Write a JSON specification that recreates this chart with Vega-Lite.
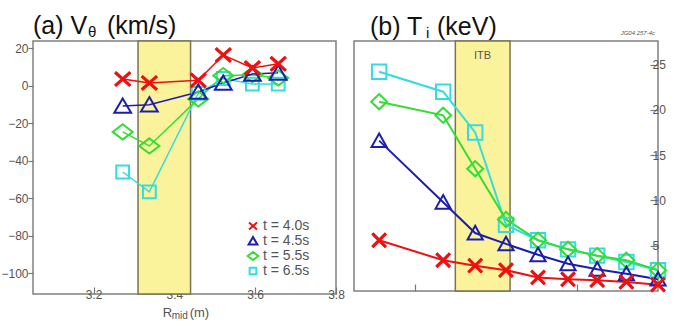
{
  "$schema": "https://vega.github.io/schema/vega-lite/v6.json",
  "padding": {"left": 0, "top": 13, "right": 5, "bottom": 4},
  "background": "white",
  "config": {
    "view": {"stroke": "#808080", "strokeWidth": 1.5},
    "font": "Liberation Sans",
    "axis": {"grid": false, "domain": false, "tickColor": "#777777", "tickWidth": 1.2, "tickSize": -6, "labelColor": "#555555", "labelFontSize": 12, "labelFont": "Liberation Sans", "labelPadding": 2}
  },
  "datasets": {
    "va": [
      {"R": 3.272, "v": -45.9, "t": "t = 6.5s"},
      {"R": 3.338, "v": -56.5, "t": "t = 6.5s"},
      {"R": 3.459, "v": -4, "t": "t = 6.5s"},
      {"R": 3.521, "v": 4, "t": "t = 6.5s"},
      {"R": 3.593, "v": 1, "t": "t = 6.5s"},
      {"R": 3.657, "v": 1, "t": "t = 6.5s"},
      {"R": 3.272, "v": -24.5, "t": "t = 5.5s"},
      {"R": 3.338, "v": -32, "t": "t = 5.5s"},
      {"R": 3.459, "v": -6.9, "t": "t = 5.5s"},
      {"R": 3.521, "v": 5.5, "t": "t = 5.5s"},
      {"R": 3.593, "v": 6, "t": "t = 5.5s"},
      {"R": 3.657, "v": 4.3, "t": "t = 5.5s"},
      {"R": 3.272, "v": -10.7, "t": "t = 4.5s"},
      {"R": 3.338, "v": -10, "t": "t = 4.5s"},
      {"R": 3.459, "v": -3.2, "t": "t = 4.5s"},
      {"R": 3.521, "v": 1.6, "t": "t = 4.5s"},
      {"R": 3.593, "v": 6.4, "t": "t = 4.5s"},
      {"R": 3.657, "v": 7, "t": "t = 4.5s"},
      {"R": 3.272, "v": 3.7, "t": "t = 4.0s"},
      {"R": 3.338, "v": 1.6, "t": "t = 4.0s"},
      {"R": 3.459, "v": 3, "t": "t = 4.0s"},
      {"R": 3.521, "v": 16.5, "t": "t = 4.0s"},
      {"R": 3.593, "v": 9.6, "t": "t = 4.0s"},
      {"R": 3.657, "v": 11.8, "t": "t = 4.0s"}
    ],
    "ti": [
      {"R": 3.112, "T": 24.2, "t": "t = 6.5s"},
      {"R": 3.270, "T": 22, "t": "t = 6.5s"},
      {"R": 3.349, "T": 17.5, "t": "t = 6.5s"},
      {"R": 3.425, "T": 7.3, "t": "t = 6.5s"},
      {"R": 3.504, "T": 5.6, "t": "t = 6.5s"},
      {"R": 3.578, "T": 4.6, "t": "t = 6.5s"},
      {"R": 3.650, "T": 3.9, "t": "t = 6.5s"},
      {"R": 3.722, "T": 3.2, "t": "t = 6.5s"},
      {"R": 3.800, "T": 2.3, "t": "t = 6.5s"},
      {"R": 3.112, "T": 20.9, "t": "t = 5.5s"},
      {"R": 3.270, "T": 19.4, "t": "t = 5.5s"},
      {"R": 3.349, "T": 13.5, "t": "t = 5.5s"},
      {"R": 3.425, "T": 7.9, "t": "t = 5.5s"},
      {"R": 3.504, "T": 5.6, "t": "t = 5.5s"},
      {"R": 3.578, "T": 4.6, "t": "t = 5.5s"},
      {"R": 3.650, "T": 3.9, "t": "t = 5.5s"},
      {"R": 3.722, "T": 3.4, "t": "t = 5.5s"},
      {"R": 3.800, "T": 2.3, "t": "t = 5.5s"},
      {"R": 3.112, "T": 16.6, "t": "t = 4.5s"},
      {"R": 3.270, "T": 9.8, "t": "t = 4.5s"},
      {"R": 3.349, "T": 6.4, "t": "t = 4.5s"},
      {"R": 3.425, "T": 5.2, "t": "t = 4.5s"},
      {"R": 3.504, "T": 4, "t": "t = 4.5s"},
      {"R": 3.578, "T": 3, "t": "t = 4.5s"},
      {"R": 3.650, "T": 2.4, "t": "t = 4.5s"},
      {"R": 3.722, "T": 1.9, "t": "t = 4.5s"},
      {"R": 3.800, "T": 1.3, "t": "t = 4.5s"},
      {"R": 3.112, "T": 5.6, "t": "t = 4.0s"},
      {"R": 3.270, "T": 3.4, "t": "t = 4.0s"},
      {"R": 3.349, "T": 2.8, "t": "t = 4.0s"},
      {"R": 3.425, "T": 2.3, "t": "t = 4.0s"},
      {"R": 3.504, "T": 1.5, "t": "t = 4.0s"},
      {"R": 3.578, "T": 1.3, "t": "t = 4.0s"},
      {"R": 3.650, "T": 1.2, "t": "t = 4.0s"},
      {"R": 3.722, "T": 1.0, "t": "t = 4.0s"},
      {"R": 3.800, "T": 0.7, "t": "t = 4.0s"}
    ]
  },
  "hconcat": [
    {
      "width": 303,
      "height": 253,
      "layer": [
        {
          "data": {"values": [{"x0": 3.31, "x1": 3.44}]},
          "mark": {"type": "rect", "fill": "#faf39c", "stroke": "#7a7450", "strokeWidth": 1.5},
          "encoding": {
            "x": {"field": "x0", "type": "quantitative", "scale": {"domain": [3.05, 3.8], "nice": false, "zero": false}, "axis": {"title": null, "values": [3.2, 3.4, 3.6, 3.8], "format": ".1f", "labelFlush": false, "tickSize": -7}},
            "x2": {"field": "x1"}
          }
        },
        {
          "data": {"name": "va"},
          "mark": {"type": "line", "strokeWidth": 1.5},
          "encoding": {
            "x": {"field": "R", "type": "quantitative", "scale": {"domain": [3.05, 3.8], "nice": false, "zero": false}, "axis": {"title": null, "values": [3.2, 3.4, 3.6, 3.8], "format": ".1f", "labelFlush": false, "tickSize": -7}},
            "y": {"field": "v", "type": "quantitative", "scale": {"domain": [-111, 24], "nice": false, "zero": false}, "axis": {"title": null, "values": [-100, -80, -60, -40, -20, 0, 20], "tickSize": 5, "labelPadding": 0}},
            "color": {"field": "t", "type": "nominal", "scale": {"domain": ["t = 4.0s", "t = 4.5s", "t = 5.5s", "t = 6.5s"], "range": ["#ee1111", "#1c1cb0", "#33dd33", "#33dddd"]}}
          }
        },
        {
          "data": {"name": "va"},
          "mark": {"type": "point", "filled": false, "strokeWidth": 2, "opacity": 1, "size": 256},
          "encoding": {
            "x": {"field": "R", "type": "quantitative", "scale": {"domain": [3.05, 3.8], "nice": false, "zero": false}, "axis": {"title": null, "values": [3.2, 3.4, 3.6, 3.8], "format": ".1f", "labelFlush": false, "tickSize": -7}},
            "y": {"field": "v", "type": "quantitative", "scale": {"domain": [-111, 24], "nice": false, "zero": false}, "axis": {"title": null, "values": [-100, -80, -60, -40, -20, 0, 20], "tickSize": 5, "labelPadding": 0}},
            "color": {"field": "t", "type": "nominal", "scale": {"domain": ["t = 4.0s", "t = 4.5s", "t = 5.5s", "t = 6.5s"], "range": ["#ee1111", "#1c1cb0", "#33dd33", "#33dddd"]},
              "legend": {"orient": "none", "legendX": 213, "legendY": 178, "title": null, "labelFontSize": 14, "labelColor": "#555555", "symbolSize": 70, "symbolStrokeWidth": 2, "rowPadding": -3, "labelOffset": 3}},
            "shape": {"field": "t", "type": "nominal", "scale": {"domain": ["t = 4.0s", "t = 4.5s", "t = 5.5s", "t = 6.5s"], "range": ["M-0.95,-0.85L0.95,0.85M-0.95,0.85L0.95,-0.85", "M0,-0.95L1.05,0.85L-1.05,0.85Z", "M0,-0.95L1.25,0L0,0.95L-1.25,0Z", "M-0.8,-0.8L0.8,-0.8L0.8,0.8L-0.8,0.8Z"]},
              "legend": {"orient": "none", "legendX": 213, "legendY": 178, "title": null, "labelFontSize": 14, "labelColor": "#555555", "symbolSize": 70, "symbolStrokeWidth": 2, "rowPadding": -3, "labelOffset": 3}}
          }
        },
        {
          "data": {"name": "va"},
          "transform": [{"filter": "datum.t == 't = 4.0s'"}],
          "mark": {"type": "point", "filled": false, "strokeWidth": 3.2, "opacity": 1, "size": 256, "shape": "M-0.95,-0.85L0.95,0.85M-0.95,0.85L0.95,-0.85", "color": "#ee1111"},
          "encoding": {
            "x": {"field": "R", "type": "quantitative", "scale": {"domain": [3.05, 3.8], "nice": false, "zero": false}, "axis": {"title": null, "values": [3.2, 3.4, 3.6, 3.8], "format": ".1f", "labelFlush": false, "tickSize": -7}},
            "y": {"field": "v", "type": "quantitative", "scale": {"domain": [-111, 24], "nice": false, "zero": false}, "axis": {"title": null, "values": [-100, -80, -60, -40, -20, 0, 20], "tickSize": 5, "labelPadding": 0}}
          }
        },
        {
          "data": {"values": [{}]},
          "mark": {"type": "text", "text": "(a) V", "fontSize": 25, "align": "left", "baseline": "alphabetic", "color": "#111111"},
          "encoding": {"x": {"datum": 3.05, "type": "quantitative", "scale": {"domain": [3.05, 3.8], "nice": false, "zero": false}}, "y": {"datum": 27.74, "type": "quantitative", "scale": {"domain": [-111, 24], "nice": false, "zero": false}}}
        },
        {
          "data": {"values": [{}]},
          "mark": {"type": "text", "text": "θ", "fontSize": 15, "align": "left", "baseline": "alphabetic", "dx": 55, "dy": 3, "color": "#111111"},
          "encoding": {"x": {"datum": 3.05, "type": "quantitative", "scale": {"domain": [3.05, 3.8], "nice": false, "zero": false}}, "y": {"datum": 27.74, "type": "quantitative", "scale": {"domain": [-111, 24], "nice": false, "zero": false}}}
        },
        {
          "data": {"values": [{}]},
          "mark": {"type": "text", "text": "(km/s)", "fontSize": 25, "align": "left", "baseline": "alphabetic", "dx": 74, "color": "#111111"},
          "encoding": {"x": {"datum": 3.05, "type": "quantitative", "scale": {"domain": [3.05, 3.8], "nice": false, "zero": false}}, "y": {"datum": 27.74, "type": "quantitative", "scale": {"domain": [-111, 24], "nice": false, "zero": false}}}
        },
        {
          "data": {"values": [{}]},
          "mark": {"type": "text", "text": "R", "fontSize": 13, "align": "left", "baseline": "alphabetic", "color": "#555555"},
          "encoding": {"x": {"datum": 3.371, "type": "quantitative", "scale": {"domain": [3.05, 3.8], "nice": false, "zero": false}}, "y": {"datum": -123.5, "type": "quantitative", "scale": {"domain": [-111, 24], "nice": false, "zero": false}}}
        },
        {
          "data": {"values": [{}]},
          "mark": {"type": "text", "text": "mid", "fontSize": 10, "align": "left", "baseline": "alphabetic", "dx": 9, "dy": 2, "color": "#555555"},
          "encoding": {"x": {"datum": 3.371, "type": "quantitative", "scale": {"domain": [3.05, 3.8], "nice": false, "zero": false}}, "y": {"datum": -123.5, "type": "quantitative", "scale": {"domain": [-111, 24], "nice": false, "zero": false}}}
        },
        {
          "data": {"values": [{}]},
          "mark": {"type": "text", "text": "(m)", "fontSize": 13, "align": "left", "baseline": "alphabetic", "dx": 27, "color": "#555555"},
          "encoding": {"x": {"datum": 3.371, "type": "quantitative", "scale": {"domain": [3.05, 3.8], "nice": false, "zero": false}}, "y": {"datum": -123.5, "type": "quantitative", "scale": {"domain": [-111, 24], "nice": false, "zero": false}}}
        }
      ]
    },
    {
      "width": 304,
      "height": 250,
      "layer": [
        {
          "data": {"values": [{"x0": 3.30, "x1": 3.435}]},
          "mark": {"type": "rect", "fill": "#faf39c", "stroke": "#7a7450", "strokeWidth": 1.5},
          "encoding": {
            "x": {"field": "x0", "type": "quantitative", "scale": {"domain": [3.05, 3.8], "nice": false, "zero": false}, "axis": {"title": null, "values": [3.2, 3.4, 3.6], "labels": false, "tickSize": -7}},
            "x2": {"field": "x1"}
          }
        },
        {
          "data": {"name": "ti"},
          "mark": {"type": "line", "strokeWidth": 2},
          "encoding": {
            "x": {"field": "R", "type": "quantitative", "scale": {"domain": [3.05, 3.8], "nice": false, "zero": false}, "axis": {"title": null, "values": [3.2, 3.4, 3.6], "labels": false, "tickSize": -7}},
            "y": {"field": "T", "type": "quantitative", "scale": {"domain": [0, 27.6], "nice": false, "zero": false}, "axis": {"title": null, "orient": "right", "values": [5, 10, 15, 20, 25], "tickSize": -8}},
            "color": {"field": "t", "type": "nominal", "scale": {"domain": ["t = 4.0s", "t = 4.5s", "t = 5.5s", "t = 6.5s"], "range": ["#ee1111", "#1c1cb0", "#33dd33", "#33dddd"]}, "legend": null}
          }
        },
        {
          "data": {"name": "ti"},
          "mark": {"type": "point", "filled": false, "strokeWidth": 2, "opacity": 1, "size": 256},
          "encoding": {
            "x": {"field": "R", "type": "quantitative", "scale": {"domain": [3.05, 3.8], "nice": false, "zero": false}, "axis": {"title": null, "values": [3.2, 3.4, 3.6], "labels": false, "tickSize": -7}},
            "y": {"field": "T", "type": "quantitative", "scale": {"domain": [0, 27.6], "nice": false, "zero": false}, "axis": {"title": null, "orient": "right", "values": [5, 10, 15, 20, 25], "tickSize": -8}},
            "color": {"field": "t", "type": "nominal", "scale": {"domain": ["t = 4.0s", "t = 4.5s", "t = 5.5s", "t = 6.5s"], "range": ["#ee1111", "#1c1cb0", "#33dd33", "#33dddd"]}, "legend": null},
            "shape": {"field": "t", "type": "nominal", "scale": {"domain": ["t = 4.0s", "t = 4.5s", "t = 5.5s", "t = 6.5s"], "range": ["M-0.85,-0.85L0.85,0.85M-0.85,0.85L0.85,-0.85", "M0,-0.9L0.95,0.8L-0.95,0.8Z", "M0,-0.95L1.0,0L0,0.95L-1.0,0Z", "M-0.9,-0.9L0.9,-0.9L0.9,0.9L-0.9,0.9Z"]}, "legend": null}
          }
        },
        {
          "data": {"name": "ti"},
          "transform": [{"filter": "datum.t == 't = 4.0s'"}],
          "mark": {"type": "point", "filled": false, "strokeWidth": 3.2, "opacity": 1, "size": 256, "shape": "M-0.85,-0.85L0.85,0.85M-0.85,0.85L0.85,-0.85", "color": "#ee1111"},
          "encoding": {
            "x": {"field": "R", "type": "quantitative", "scale": {"domain": [3.05, 3.8], "nice": false, "zero": false}, "axis": {"title": null, "values": [3.2, 3.4, 3.6], "labels": false, "tickSize": -7}},
            "y": {"field": "T", "type": "quantitative", "scale": {"domain": [0, 27.6], "nice": false, "zero": false}, "axis": {"title": null, "orient": "right", "values": [5, 10, 15, 20, 25], "tickSize": -8}}
          }
        },
        {
          "data": {"values": [{}]},
          "mark": {"type": "text", "text": "ITB", "fontSize": 11, "align": "center", "baseline": "middle", "color": "#555555"},
          "encoding": {"x": {"datum": 3.367, "type": "quantitative", "scale": {"domain": [3.05, 3.8], "nice": false, "zero": false}}, "y": {"datum": 25.94, "type": "quantitative", "scale": {"domain": [0, 27.6], "nice": false, "zero": false}}}
        },
        {
          "data": {"values": [{}]},
          "mark": {"type": "text", "text": "JG04.257-4c", "fontSize": 6, "fontStyle": "italic", "align": "right", "baseline": "middle", "dx": -3, "color": "#555555"},
          "encoding": {"x": {"datum": 3.8, "type": "quantitative", "scale": {"domain": [3.05, 3.8], "nice": false, "zero": false}}, "y": {"datum": 28.5, "type": "quantitative", "scale": {"domain": [0, 27.6], "nice": false, "zero": false}}}
        },
        {
          "data": {"values": [{}]},
          "mark": {"type": "text", "text": "(b) T", "fontSize": 25, "align": "left", "baseline": "alphabetic", "dx": 16, "color": "#111111"},
          "encoding": {"x": {"datum": 3.05, "type": "quantitative", "scale": {"domain": [3.05, 3.8], "nice": false, "zero": false}}, "y": {"datum": 28.26, "type": "quantitative", "scale": {"domain": [0, 27.6], "nice": false, "zero": false}}}
        },
        {
          "data": {"values": [{}]},
          "mark": {"type": "text", "text": "i", "fontSize": 15, "align": "left", "baseline": "alphabetic", "dx": 72, "dy": 3, "color": "#111111"},
          "encoding": {"x": {"datum": 3.05, "type": "quantitative", "scale": {"domain": [3.05, 3.8], "nice": false, "zero": false}}, "y": {"datum": 28.26, "type": "quantitative", "scale": {"domain": [0, 27.6], "nice": false, "zero": false}}}
        },
        {
          "data": {"values": [{}]},
          "mark": {"type": "text", "text": "(keV)", "fontSize": 25, "align": "left", "baseline": "alphabetic", "dx": 83, "color": "#111111"},
          "encoding": {"x": {"datum": 3.05, "type": "quantitative", "scale": {"domain": [3.05, 3.8], "nice": false, "zero": false}}, "y": {"datum": 28.26, "type": "quantitative", "scale": {"domain": [0, 27.6], "nice": false, "zero": false}}}
        }
      ]
    }
  ],
  "spacing": 18,
  "bounds": "flush",
  "resolve": {"scale": {"color": "independent", "shape": "independent"}}
}
